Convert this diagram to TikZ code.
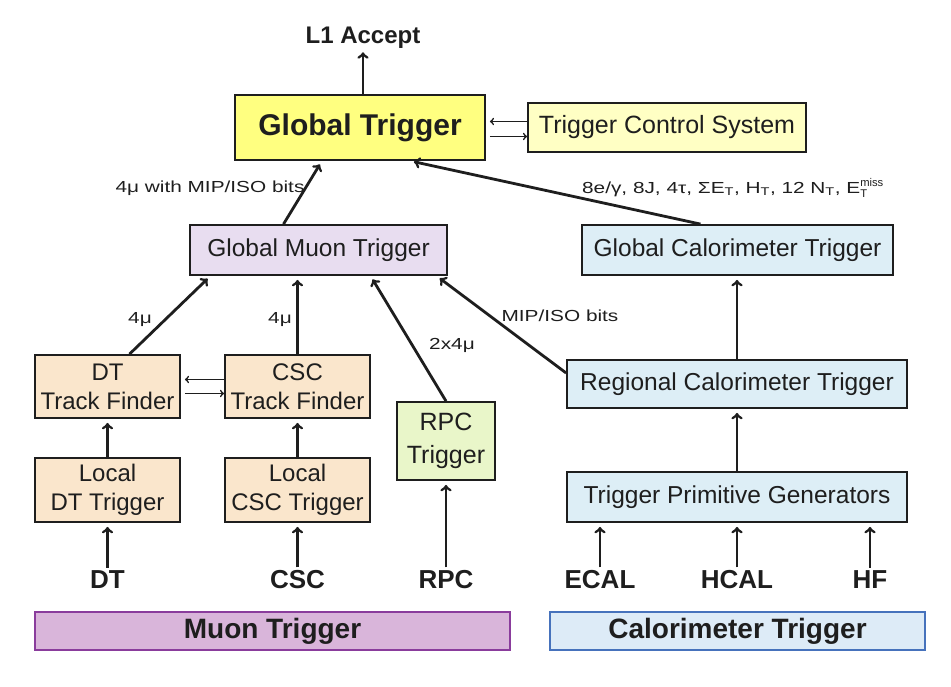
\documentclass[tikz,border=0pt]{standalone}
\usepackage{fontspec}
\setmainfont{Liberation Sans}
\newfontfamily\lblfont[FakeStretch=1.3]{Liberation Sans}
\usetikzlibrary{calc}
\definecolor{gtyellow}{HTML}{FFFF80}
\definecolor{tcsyellow}{HTML}{FFFFC4}
\definecolor{muonlav}{HTML}{E8DDF0}
\definecolor{calblue}{HTML}{DDEEF6}
\definecolor{tfbeige}{HTML}{FAE6CC}
\definecolor{rpcgreen}{HTML}{E9F6C9}
\definecolor{muonband}{HTML}{D9B5DA}
\definecolor{muonedge}{HTML}{8A3C9C}
\definecolor{calband}{HTML}{DDEBF7}
\definecolor{caledge}{HTML}{4672BC}
\definecolor{ink}{HTML}{1E1E1E}
\begin{document}
\begin{tikzpicture}[x=1pt,y=-1pt,
    box/.style={draw=ink,line width=1.8pt,align=center,inner sep=0pt,text=ink,font=\fontsize{24.5}{27}\selectfont},
    twoline/.style={box,fill=tfbeige,minimum width=145pt,font=\fontsize{24}{29}\selectfont},
    arr/.style={->,draw=ink,line width=2.8pt,shorten >=4pt},
    tiny/.style={->,draw=ink,line width=1.6pt},
    lbl/.style={text=ink,font=\lblfont\fontsize{16}{18}\selectfont},
    det/.style={text=ink,font=\fontsize{26}{28}\bfseries\selectfont},
    band/.style={line width=1.8pt,minimum height=38pt,inner sep=0pt,text=ink,font=\fontsize{28}{30}\bfseries\selectfont}]
  \useasboundingbox (0,0) rectangle (951,687);
  % top level
  \node[box,fill=gtyellow,minimum width=250pt,minimum height=65pt,font=\fontsize{30}{32}\bfseries\selectfont] (gt) at (360,127.5) {Global Trigger};
  \node[det,font=\fontsize{24}{26}\bfseries\selectfont] (l1) at (363,38) {L1 Accept};
  \node[box,fill=tcsyellow,minimum width=278pt,minimum height=49pt,font=\fontsize{25}{27}\selectfont] (tcs) at (667,127.5) {Trigger Control System};
  \draw[arr,shorten >=0pt] (gt.north -| l1) -- (l1.south);
  \draw[tiny] ($(tcs.west)+(0,-6)$) -- ($(gt.east)+(4,-6)$);
  \draw[tiny] ($(gt.east)+(4,9)$) -- ($(tcs.west)+(0,9)$);
  % muon side
  \node[box,fill=muonlav,minimum width=257pt,minimum height=50pt] (gmt) at (318.5,250) {Global Muon Trigger};
  \node[twoline,minimum height=63pt] (dttf) at (107.5,386.5) {DT\\Track Finder};
  \node[twoline,minimum height=63pt] (csctf) at (297.5,386.5) {CSC\\Track Finder};
  \node[box,fill=rpcgreen,minimum width=98pt,minimum height=78pt,font=\fontsize{25}{33}\selectfont] (rpc) at (446,441) {RPC\\Trigger};
  \node[twoline,minimum height=64pt] (ldt) at (107.5,490) {Local\\DT Trigger};
  \node[twoline,minimum height=64pt] (lcsc) at (297.5,490) {Local\\CSC Trigger};
  \draw[tiny] ($(csctf.west)+(0,-7)$) -- ($(dttf.east)+(4,-7)$);
  \draw[tiny] ($(dttf.east)+(4,7)$) -- ($(csctf.west)+(0,7)$);
  % calorimeter side
  \node[box,fill=calblue,minimum width=311pt,minimum height=50pt] (gct) at (737.5,250) {Global Calorimeter Trigger};
  \node[box,fill=calblue,minimum width=340pt,minimum height=48pt] (rct) at (737,384) {Regional Calorimeter Trigger};
  \node[box,fill=calblue,minimum width=340pt,minimum height=50pt] (tpg) at (737,497) {Trigger Primitive Generators};
  % links up to the global trigger
  \draw[arr] ($(gmt.north)+(-35,0)$) -- ($(gt.south)+(-38,0)$);
  \draw[arr] ($(gct.north)+(-37,0)$) -- ($(gt.south)+(50,0)$);
  \node[lbl] (mulbl) at (210,188) {4μ with MIP/ISO bits};
  \node[lbl] (callbl) at (733,188) {8e/γ, 8J, 4τ, ΣE\textsubscript{T}, H\textsubscript{T}, 12 N\textsubscript{T}, E$_\mathrm{T}^\mathrm{miss}$};
  % links into the muon trigger
  \draw[arr] ($(dttf.north)+(22,0)$) -- ($(gmt.south)+(-108,0)$);
  \draw[arr] (csctf.north) -- (csctf.north |- gmt.south);
  \draw[arr] (rpc.north) -- ($(gmt.south)+(52,0)$);
  \draw[arr] ($(rct.west)+(0,-11)$) -- ($(gmt.south)+(118,0)$);
  \node[lbl] (dtmu) at (140,320) {4μ};
  \node[lbl] (cscmu) at (280,320) {4μ};
  \node[lbl] (rpcmu) at (452,345) {2x4μ};
  \node[lbl] (miplbl) at (560,316) {MIP/ISO bits};
  \draw[arr] (ldt.north) -- (ldt.north |- dttf.south);
  \draw[arr] (lcsc.north) -- (lcsc.north |- csctf.south);
  \draw[arr] (rct.north) -- (rct.north |- gct.south);
  \draw[arr] (tpg.north) -- (tpg.north |- rct.south);
  % detectors
  \node[det] (dt) at (107.5,580) {DT};
  \node[det] (csc) at (297.5,580) {CSC};
  \node[det] (rpcdet) at (446,580) {RPC};
  \node[det] (ecal) at (600,580) {ECAL};
  \node[det] (hcal) at (737,580) {HCAL};
  \node[det] (hf) at (870,580) {HF};
  \foreach \d/\b in {dt/ldt,csc/lcsc,rpcdet/rpc,ecal/tpg,hcal/tpg,hf/tpg}
    \draw[arr] (\d.north) -- (\d.north |- \b.south);
  % bands
  \node[band,draw=muonedge,fill=muonband,minimum width=475pt] (muon) at (272.5,631) {Muon Trigger};
  \node[band,draw=caledge,fill=calband,minimum width=375pt] (calo) at (737.5,631) {Calorimeter Trigger};
\end{tikzpicture}
\end{document}
